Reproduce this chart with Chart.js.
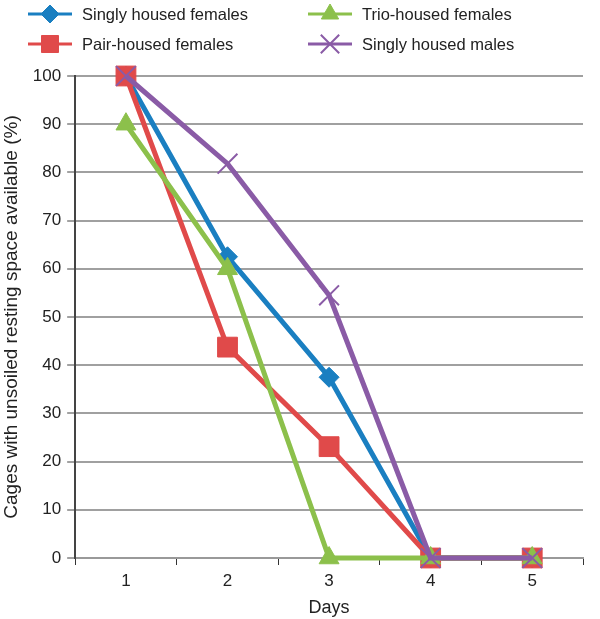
<!DOCTYPE html>
<html>
<head>
<meta charset="utf-8">
<script src="https://cdn.jsdelivr.net/npm/chart.js@4"></script>
<style>
html,body{margin:0;padding:0;background:#fff;}
#wrap{width:600px;height:619px;}
</style>
</head>
<body>
<div id="wrap"><canvas id="c" width="600" height="619"></canvas></div>
<script>
const days = ['1','2','3','4','5'];
const singlyFemales = [100, 62.5, 37.5, 0, 0];
const pairFemales = [100, 43.75, 23.1, 0, 0];
const trioFemales = [90, 60, 0, 0, 0];
const singlyMales = [100, 81.8, 54.5, 0, 0];
const yTicks = [0,10,20,30,40,50,60,70,80,90,100];
const seriesNames = ['Singly housed females','Pair-housed females','Trio-housed females','Singly housed males'];

const BLUE='#1a7fc1', RED='#e04a4a', GREEN='#8cc04b', PURPLE='#8a5ba6';
const FONT = "'Liberation Sans', Arial, sans-serif";

const legendPlugin = {
  id:'customLegend',
  afterDraw(chart){
    const ctx = chart.ctx;
    const ds = chart.data.datasets;
    const pos = [[28,14],[28,44],[308,14],[308,44]];
    ds.forEach((d,i)=>{
      const [x,y]=pos[i];
      ctx.save();
      ctx.strokeStyle=d.borderColor; ctx.lineWidth=3;
      ctx.beginPath(); ctx.moveTo(x,y); ctx.lineTo(x+44,y); ctx.stroke();
      ctx.fillStyle=d.pointBackgroundColor; ctx.strokeStyle=d.pointBorderColor; ctx.lineWidth=d.pointBorderWidth;
      Chart.helpers.drawPoint(ctx,{pointStyle:d.pointStyle,rotation:d.pointRotation||0,radius:d.legendRadius,borderWidth:d.pointBorderWidth},x+22,y);
      ctx.fillStyle='#222'; ctx.font="16.5px "+FONT; ctx.textBaseline='middle'; ctx.textAlign='left';
      ctx.fillText(d.label,x+54,y+1);
      ctx.restore();
    });
  }
};

new Chart(document.getElementById('c'),{
  type:'line',
  data:{
    labels:days,
    datasets:[
      {label:seriesNames[0],data:singlyFemales,borderColor:BLUE,backgroundColor:BLUE,pointBackgroundColor:BLUE,pointBorderColor:BLUE,borderWidth:5,pointStyle:'rectRot',pointRadius:10,legendRadius:9,pointBorderWidth:1,order:3,clip:false},
      {label:seriesNames[1],data:pairFemales,borderColor:RED,backgroundColor:RED,pointBackgroundColor:RED,pointBorderColor:RED,borderWidth:5,pointStyle:'rect',pointRadius:14,legendRadius:12,pointBorderWidth:1,order:2,clip:false},
      {label:seriesNames[2],data:trioFemales,borderColor:GREEN,backgroundColor:GREEN,pointBackgroundColor:GREEN,pointBorderColor:GREEN,borderWidth:5,pointStyle:'triangle',pointRadius:11.5,legendRadius:10,pointBorderWidth:1,order:1,clip:false},
      {label:seriesNames[3],data:singlyMales,borderColor:PURPLE,backgroundColor:PURPLE,pointBackgroundColor:PURPLE,pointBorderColor:PURPLE,borderWidth:5,pointStyle:'cross',pointRotation:45,pointRadius:14,legendRadius:13,pointBorderWidth:2,order:0,clip:false}
    ]
  },
  options:{
    responsive:false,
    animation:false,
    devicePixelRatio:1,
    layout:{padding:{top:76,right:17,left:0,bottom:0}},
    plugins:{legend:{display:false},tooltip:{enabled:false}},
    scales:{
      x:{
        type:'category',
        offset:true,
        grid:{offset:true,drawOnChartArea:false,tickLength:7,color:'#333',lineWidth:1},
        border:{display:true,color:'#999',width:2},
        ticks:{color:'#222',font:{size:17,family:FONT},padding:6},
        title:{display:true,text:'Days',color:'#222',font:{size:18,family:FONT},padding:{top:0,bottom:0}}
      },
      y:{
        min:0,max:100,
        afterBuildTicks(axis){axis.ticks=yTicks.map(v=>({value:v}));},
        grid:{color:'#a0a0a0',lineWidth:2,tickLength:8,drawTicks:true,tickColor:'#444',tickWidth:1},
        border:{display:true,color:'#444',width:2},
        ticks:{color:'#222',font:{size:17,family:FONT},padding:6},
        title:{display:true,text:'Cages with unsoiled resting space available (%)',color:'#222',font:{size:19,family:FONT},padding:{top:0,bottom:4}}
      }
    }
  },
  plugins:[legendPlugin]
});
</script>
</body>
</html>
